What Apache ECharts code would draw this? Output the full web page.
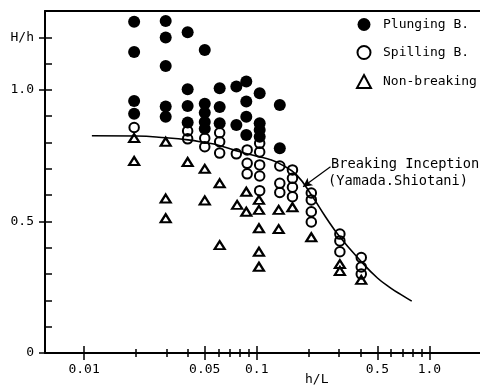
<!DOCTYPE html>
<html>
<head>
<meta charset="utf-8">
<script src="https://cdn.jsdelivr.net/npm/echarts@6/dist/echarts.min.js"></script>
<style>
html,body{margin:0;padding:0;background:#fff;}
#chart{width:480px;height:385px;}
</style>
</head>
<body>
<div id="chart"></div>
<script>
// ---- data ----
const plungingX = [0.0195,0.0195,0.0195,0.0195, 0.0297,0.0297,0.0297,0.0297,0.0297, 0.0398,0.0398,0.0398,0.0398, 0.05,0.05,0.05,0.05,0.05, 0.061,0.061,0.061, 0.0762,0.0762, 0.087,0.087,0.087,0.087, 0.104,0.104,0.104,0.104, 0.136,0.136];
const plungingY = [1.259,1.144,0.958,0.909, 1.262,1.199,1.091,0.937,0.898, 1.219,1.003,0.939,0.876, 1.152,0.947,0.913,0.878,0.852, 1.006,0.935,0.873, 1.013,0.867, 1.032,0.956,0.898,0.829, 0.987,0.873,0.848,0.822, 0.943,0.778];

const spillingX = [0.0195, 0.0398,0.0398, 0.05,0.05, 0.061,0.061,0.061, 0.0762, 0.088,0.088,0.088, 0.104,0.104,0.104,0.104,0.104, 0.136,0.136,0.136, 0.161,0.161,0.161,0.161, 0.207,0.207,0.207,0.207, 0.303,0.303,0.303, 0.403,0.403,0.403];
const spillingY = [0.857, 0.844,0.814, 0.816,0.784, 0.837,0.803,0.760, 0.757, 0.772,0.721,0.681, 0.797,0.764,0.715,0.673,0.617, 0.711,0.645,0.610, 0.696,0.664,0.630,0.594, 0.608,0.582,0.537,0.498, 0.452,0.426,0.385, 0.363,0.327,0.300];

const nonBreakingX = [0.0195,0.0195, 0.0297,0.0297,0.0297, 0.0398, 0.05,0.05, 0.061,0.061, 0.077, 0.087,0.087, 0.103,0.103,0.103,0.103,0.103, 0.134,0.134, 0.161, 0.207, 0.303,0.303, 0.403];
const nonBreakingY = [0.817,0.730, 0.803,0.587,0.512, 0.726, 0.700,0.580, 0.645,0.410, 0.563, 0.613,0.537, 0.582,0.544,0.474,0.385,0.328, 0.544,0.471, 0.554, 0.440, 0.338,0.312, 0.278];

const curveX = [0.0111,0.02,0.03,0.04,0.05,0.06,0.08,0.1,0.12,0.14,0.17,0.21,0.25,0.3,0.4,0.5,0.6,0.7,0.79];
const curveY = [0.826,0.825,0.818,0.810,0.800,0.790,0.765,0.748,0.735,0.715,0.677,0.595,0.518,0.445,0.350,0.285,0.246,0.218,0.197];

const arrowFrom = [0.2674, 0.708];
const arrowTo = [0.1855, 0.632];

const xMinorTicks = [0.01,0.02,0.03,0.04,0.05,0.06,0.07,0.08,0.09,0.1,0.2,0.3,0.4,0.5,0.6,0.7,0.8,0.9,1.0];
const xMajorTicks = [0.01,0.05,0.1,0.5,1.0];
const xTickLabels = ['0.01','0.05','0.1','0.5','1.0'];
const yMajorTicks = [0,0.5,1.0,1.2];
const yTickLabels = ['0','0.5','1.0','H/h'];

const legendNames = ['Plunging B.','Spilling B.','Non-breaking'];
const annotationLines = ['Breaking Inception','(Yamada.Shiotani)'];
const xAxisTitle = 'h/L';

// ---- chart ----
const FONT = 'DejaVu Sans Mono';
const X_MIN = 0.00594, X_MAX = 1.963;
const Y_MIN = 0, Y_MAX = 1.3;
const zip = (xs, ys) => xs.map((x, i) => [x, ys[i]]);

function xAxisBase(extra) {
  return Object.assign({
    type: 'log', logBase: 10, min: X_MIN, max: X_MAX, position: 'bottom',
    axisLine: { show: false }, splitLine: { show: false },
    axisTick: { show: false }, axisLabel: { show: false }
  }, extra);
}
function yAxisBase(extra) {
  return Object.assign({
    type: 'value', min: Y_MIN, max: Y_MAX, position: 'left',
    axisLine: { show: false }, splitLine: { show: false },
    axisTick: { show: false }, axisLabel: { show: false }
  }, extra);
}

const tickStyle = { color: '#000', width: 1.5 };

const option = {
  backgroundColor: '#fff',
  animation: false,
  grid: { left: 45, right: 0, top: 11, bottom: 32, containLabel: false },
  xAxis: [
    xAxisBase({
      axisLine: { show: true, onZero: false, lineStyle: { color: '#000', width: 2 } },
      axisTick: { show: true, inside: true, length: 4, lineStyle: tickStyle, customValues: xMinorTicks }
    }),
    xAxisBase({
      axisTick: { show: true, inside: false, length: 4, lineStyle: tickStyle, customValues: xMinorTicks }
    }),
    xAxisBase({
      axisTick: { show: true, inside: true, length: 7, lineStyle: tickStyle, customValues: xMajorTicks }
    }),
    xAxisBase({
      axisTick: { show: true, inside: false, length: 7, lineStyle: tickStyle, customValues: xMajorTicks },
      axisLabel: {
        show: true, margin: 10, customValues: xMajorTicks,
        color: '#000', fontFamily: FONT, fontSize: 13,
        formatter: function (v) {
          const i = xMajorTicks.findIndex(t => Math.abs(t - v) / t < 1e-6);
          return i >= 0 ? xTickLabels[i] : '';
        }
      }
    }),
    xAxisBase({
      position: 'top',
      axisLine: { show: true, onZero: false, lineStyle: { color: '#000', width: 2 } }
    })
  ],
  yAxis: [
    yAxisBase({
      interval: 0.1,
      axisLine: { show: true, onZero: false, lineStyle: { color: '#000', width: 2 } },
      axisTick: { show: true, inside: true, length: 7, lineStyle: tickStyle }
    }),
    yAxisBase({
      axisTick: { show: true, inside: false, length: 6, lineStyle: tickStyle, customValues: yMajorTicks },
      axisLabel: {
        show: true, margin: 11, customValues: yMajorTicks,
        color: '#000', fontFamily: FONT, fontSize: 13,
        formatter: function (v) {
          const i = yMajorTicks.findIndex(t => Math.abs(t - v) < 1e-6);
          return i >= 0 ? yTickLabels[i] : '';
        }
      }
    })
  ],
  legend: {
    show: true,
    orient: 'vertical',
    left: 356, top: 18,
    padding: 0,
    itemWidth: 14, itemHeight: 13, itemGap: 14,
    data: legendNames,
    textStyle: { color: '#000', fontFamily: FONT, fontSize: 13, lineHeight: 13, padding: [0, 0, 0, 7] }
  },
  graphic: [
    { type: 'text', left: 331, top: 157, style: { text: annotationLines[0], fill: '#000', font: '13.7px "DejaVu Sans Mono"' } },
    { type: 'text', left: 328, top: 174, style: { text: annotationLines[1], fill: '#000', font: '13.7px "DejaVu Sans Mono"' } },
    { type: 'text', left: 305, top: 373, style: { text: xAxisTitle, fill: '#000', font: '13px "DejaVu Sans Mono"' } }
  ],
  series: [
    {
      name: 'curve', type: 'line', xAxisIndex: 0, yAxisIndex: 0,
      data: zip(curveX, curveY), smooth: 0.5, showSymbol: false, symbol: 'none',
      lineStyle: { color: '#000', width: 1.6 }, z: 1, silent: true,
      markLine: {
        silent: true, symbol: ['none', 'arrow'], symbolSize: [7, 9],
        label: { show: false },
        lineStyle: { color: '#000', width: 1.2, type: 'solid' },
        data: [[{ coord: arrowFrom }, { coord: arrowTo }]]
      }
    },
    {
      name: legendNames[0], type: 'scatter', xAxisIndex: 0, yAxisIndex: 0,
      data: zip(plungingX, plungingY), symbol: 'circle', symbolSize: 12,
      itemStyle: { color: '#000', opacity: 1 }, z: 3
    },
    {
      name: legendNames[1], type: 'scatter', xAxisIndex: 0, yAxisIndex: 0,
      data: zip(spillingX, spillingY), symbol: 'circle', symbolSize: 9.5,
      itemStyle: { color: 'rgba(255,255,255,0)', borderColor: '#000', borderWidth: 2, opacity: 1 }, z: 3
    },
    {
      name: legendNames[2], type: 'scatter', xAxisIndex: 0, yAxisIndex: 0,
      data: zip(nonBreakingX, nonBreakingY), symbol: 'triangle', symbolSize: [10, 8],
      itemStyle: { color: 'rgba(255,255,255,0)', borderColor: '#000', borderWidth: 2.2, opacity: 1 }, z: 3
    }
  ]
};

const chart = echarts.init(document.getElementById('chart'), null, { renderer: 'canvas' });
chart.setOption(option);
</script>
</body>
</html>
